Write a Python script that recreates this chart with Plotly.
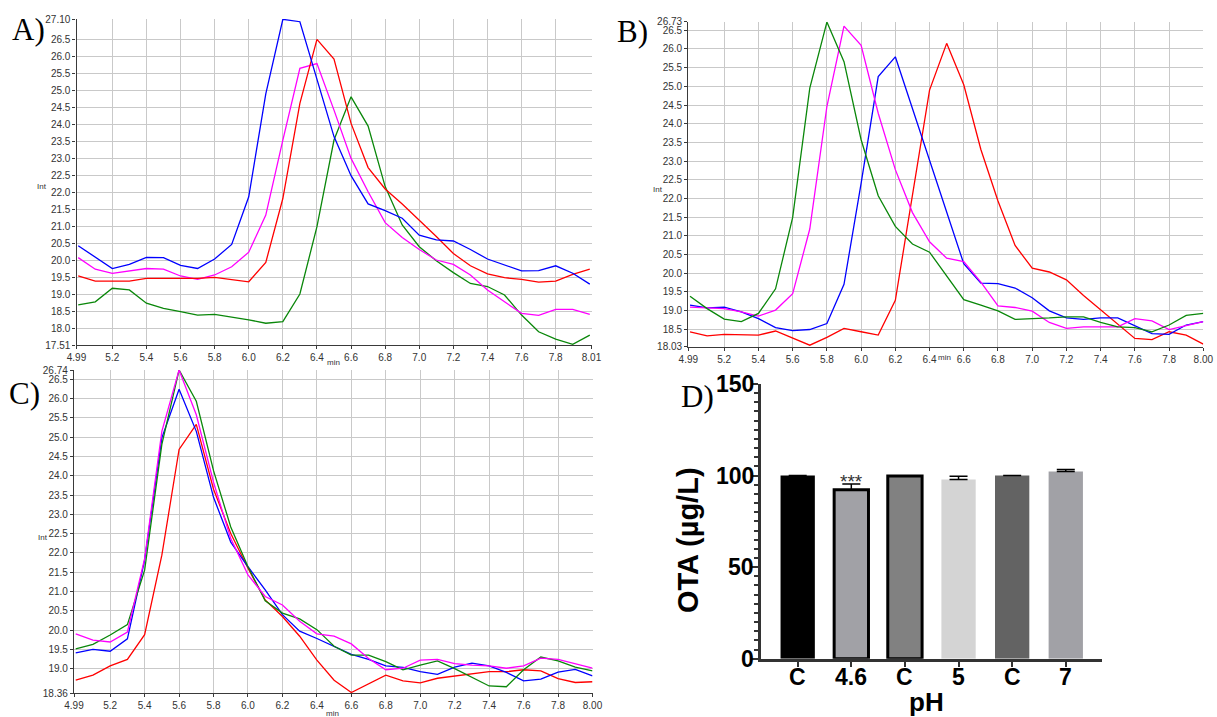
import plotly.graph_objects as go

W, H = 1217, 717

# ---------------- data ----------------
TIME = [5.0, 5.1, 5.2, 5.3, 5.4, 5.5, 5.6, 5.7, 5.8, 5.9, 6.0, 6.1, 6.2, 6.3, 6.4, 6.5,
        6.6, 6.7, 6.8, 6.9, 7.0, 7.1, 7.2, 7.3, 7.4, 7.5, 7.6, 7.7, 7.8, 7.9, 8.0]

A_blue = [20.43, 20.1, 19.76, 19.88, 20.09, 20.08, 19.85, 19.76, 20.04, 20.47, 21.87, 24.9, 27.09, 27.02,
          25.36, 23.64, 22.49, 21.66, 21.46, 21.24, 20.74, 20.6, 20.57, 20.32, 20.04, 19.86, 19.69, 19.7,
          19.84, 19.62, 19.3]
A_red = [19.54, 19.39, 19.39, 19.39, 19.47, 19.47, 19.47, 19.47, 19.5, 19.44, 19.37, 19.94, 21.82, 24.62,
         26.5, 25.92, 24.03, 22.73, 22.1, 21.66, 21.19, 20.7, 20.2, 19.84, 19.6, 19.49, 19.44, 19.36,
         19.39, 19.59, 19.74]
A_magenta = [20.08, 19.74, 19.62, 19.69, 19.76, 19.74, 19.54, 19.44, 19.57, 19.81, 20.24, 21.33, 23.54,
             25.65, 25.79, 24.42, 23.0, 22.02, 21.11, 20.67, 20.32, 20.01, 19.88, 19.57, 19.13, 18.78,
             18.44, 18.38, 18.56, 18.56, 18.41]
A_green = [18.69, 18.78, 19.18, 19.13, 18.74, 18.59, 18.49, 18.39, 18.41, 18.34, 18.25, 18.15, 18.2, 19.01,
           20.99, 23.54, 24.81, 23.95, 22.17, 21.04, 20.4, 19.99, 19.64, 19.32, 19.23, 18.98, 18.39, 17.9,
           17.68, 17.53, 17.8]

B_green = [19.38, 19.05, 18.77, 18.7, 18.92, 19.58, 21.49, 24.95, 26.72, 25.66, 23.57, 22.07, 21.25, 20.78,
           20.56, 19.94, 19.29, 19.14, 18.99, 18.76, 18.77, 18.8, 18.83, 18.83, 18.68, 18.56, 18.54, 18.43,
           18.61, 18.87, 18.92]
B_magenta = [19.09, 19.07, 19.05, 18.96, 18.85, 19.01, 19.45, 21.18, 24.46, 26.61, 26.1, 24.28, 22.77,
             21.62, 20.84, 20.4, 20.31, 19.76, 19.12, 19.08, 18.98, 18.68, 18.52, 18.56, 18.56, 18.56,
             18.78, 18.72, 18.49, 18.59, 18.7]
B_blue = [19.14, 19.07, 19.09, 18.96, 18.78, 18.54, 18.46, 18.49, 18.65, 19.7, 22.4, 25.26, 25.79, 24.4,
          23.0, 21.65, 20.25, 19.73, 19.72, 19.6, 19.34, 18.99, 18.8, 18.76, 18.8, 18.8, 18.59, 18.38,
          18.36, 18.61, 18.7]
B_red = [18.43, 18.32, 18.36, 18.34, 18.34, 18.45, 18.25, 18.07, 18.28, 18.52, 18.43, 18.34, 19.27, 22.14,
         24.9, 26.15, 25.04, 23.31, 21.93, 20.74, 20.13, 20.03, 19.82, 19.4, 19.01, 18.62, 18.25, 18.22,
         18.43, 18.34, 18.1]

C_green = [19.51, 19.63, 19.87, 20.14, 21.55, 24.81, 26.74, 25.93, 24.13, 22.67, 21.64, 20.76, 20.44, 20.29,
           20.01, 19.58, 19.35, 19.35, 19.18, 18.97, 19.09, 19.2, 19.0, 18.77, 18.55, 18.53, 18.97, 19.3,
           19.2, 19.04, 18.94]
C_magenta = [19.9, 19.74, 19.69, 19.95, 21.85, 25.15, 26.74, 25.58, 23.83, 22.37, 21.43, 20.87, 20.65,
             20.23, 19.9, 19.84, 19.64, 19.26, 18.97, 19.01, 19.22, 19.24, 19.13, 19.09, 19.07, 19.01,
             19.07, 19.27, 19.24, 19.13, 19.01]
C_blue = [19.41, 19.5, 19.45, 19.77, 21.81, 24.98, 26.24, 25.15, 23.44, 22.28, 21.64, 21.04, 20.4, 19.97,
          19.78, 19.58, 19.37, 19.24, 19.07, 19.03, 18.92, 18.85, 19.04, 19.14, 19.07, 18.9, 18.68, 18.73,
          18.91, 18.98, 18.81]
C_red = [18.7, 18.83, 19.07, 19.24, 19.88, 21.94, 24.68, 25.33, 23.65, 22.5, 21.6, 20.78, 20.35, 19.84,
         19.22, 18.7, 18.38, 18.6, 18.83, 18.68, 18.63, 18.75, 18.81, 18.87, 18.92, 18.92, 18.97, 18.94,
         18.74, 18.64, 18.66]

# tick labels
A_xticks = [4.99, 5.2, 5.4, 5.6, 5.8, 6.0, 6.2, 6.4, 6.6, 6.8, 7.0, 7.2, 7.4, 7.6, 7.8, 8.01]
A_xtext = ["4.99", "5.2", "5.4", "5.6", "5.8", "6.0", "6.2", "6.4", "6.6", "6.8", "7.0", "7.2", "7.4",
           "7.6", "7.8", "8.01"]
BC_xticks = [4.99, 5.2, 5.4, 5.6, 5.8, 6.0, 6.2, 6.4, 6.6, 6.8, 7.0, 7.2, 7.4, 7.6, 7.8, 8.0]
BC_xtext = ["4.99", "5.2", "5.4", "5.6", "5.8", "6.0", "6.2", "6.4", "6.6", "6.8", "7.0", "7.2", "7.4",
            "7.6", "7.8", "8.00"]
A_yticks = [17.51, 18.0, 18.5, 19.0, 19.5, 20.0, 20.5, 21.0, 21.5, 22.0, 22.5, 23.0, 23.5, 24.0, 24.5,
            25.0, 25.5, 26.0, 26.5, 27.10]
A_ytext = ["17.51", "18.0", "18.5", "19.0", "19.5", "20.0", "20.5", "21.0", "21.5", "22.0", "22.5",
           "23.0", "23.5", "24.0", "24.5", "25.0", "25.5", "26.0", "26.5", "27.10"]
B_yticks = [18.03, 18.5, 19.0, 19.5, 20.0, 20.5, 21.0, 21.5, 22.0, 22.5, 23.0, 23.5, 24.0, 24.5, 25.0,
            25.5, 26.0, 26.5, 26.73]
B_ytext = ["18.03", "18.5", "19.0", "19.5", "20.0", "20.5", "21.0", "21.5", "22.0", "22.5", "23.0",
           "23.5", "24.0", "24.5", "25.0", "25.5", "26.0", "26.5", "26.73"]
C_yticks = [18.36, 19.0, 19.5, 20.0, 20.5, 21.0, 21.5, 22.0, 22.5, 23.0, 23.5, 24.0, 24.5, 25.0, 25.5,
            26.0, 26.5, 26.74]
C_ytext = ["18.36", "19.0", "19.5", "20.0", "20.5", "21.0", "21.5", "22.0", "22.5", "23.0", "23.5",
           "24.0", "24.5", "25.0", "25.5", "26.0", "26.5", "26.74"]

D_labels = ["C", "4.6", "C", "5", "C", "7"]
D_values = [100, 92.3, 99.8, 97.8, 100, 102.2]
D_err = [0, 3.1, 0, 1.8, 0, 1.1]
D_colors = ["#000000", "#a1a1a6", "#818181", "#d4d4d4", "#636363", "#a1a1a6"]
D_outline = [0, 3, 3, 0, 0, 0]
D_yticks = [0, 50, 100, 150]

# ---------------- helpers ----------------
def fx(px):
    return px / W


def fy(py):
    return 1 - py / H


fig = go.Figure()

LINE_COLORS = {"blue": "#0000ff", "red": "#ff0000", "magenta": "#ff00ff", "green": "#0a870a"}

panels = [
    ("x", "y", [("green", A_green), ("magenta", A_magenta), ("red", A_red), ("blue", A_blue)]),
    ("x2", "y2", [("red", B_red), ("blue", B_blue), ("magenta", B_magenta), ("green", B_green)]),
    ("x3", "y3", [("red", C_red), ("blue", C_blue), ("green", C_green), ("magenta", C_magenta)]),
]
for xa, ya, series in panels:
    for cname, vals in series:
        fig.add_trace(go.Scatter(x=TIME, y=vals, mode="lines", xaxis=xa, yaxis=ya,
                                 line=dict(color=LINE_COLORS[cname], width=1.3),
                                 showlegend=False, hoverinfo="skip"))

x_idx = list(range(len(D_labels)))
fig.add_trace(go.Bar(
    x=x_idx, y=D_values, xaxis="x4", yaxis="y4", width=0.64,
    marker=dict(color=D_colors, line=dict(color="#000000", width=D_outline)),
    error_y=dict(type="data", symmetric=False, array=D_err, arrayminus=[0] * len(D_err),
                 color="#000000", thickness=1.5, width=9),
    showlegend=False, hoverinfo="skip"))

tickfont_small = dict(family="Liberation Sans, Arial", size=10, color="#333333")
grid = dict(showgrid=True, gridcolor="#c9c9c9", gridwidth=1.4, zeroline=False,
            showline=True, linecolor="#3a3a3a", linewidth=1.3, ticks="outside",
            ticklen=3, tickcolor="#3a3a3a", tickfont=tickfont_small, tickmode="array",
            automargin=False)


def chrom_axes(xdom, ydom, xr, yr, xt, xtt, yt, ytt):
    xa = dict(grid, domain=[fx(xdom[0]), fx(xdom[1])], range=xr, tickvals=xt, ticktext=xtt)
    ya = dict(grid, domain=[fy(ydom[1]), fy(ydom[0])], range=yr, tickvals=yt, ticktext=ytt)
    return xa, ya


xa1, ya1 = chrom_axes((76.5, 591.5), (19, 345), [4.99, 8.01], [17.51, 27.10],
                      A_xticks, A_xtext, A_yticks, A_ytext)
xa2, ya2 = chrom_axes((688.3, 1203.3), (21.7, 346.7), [4.99, 8.0], [18.03, 26.73],
                      BC_xticks, BC_xtext, B_yticks, B_ytext)
xa3, ya3 = chrom_axes((74, 592.5), (370, 693.3), [4.99, 8.0], [18.36, 26.74],
                      BC_xticks, BC_xtext, C_yticks, C_ytext)

fig.update_layout(
    xaxis=dict(xa1, anchor="y"), yaxis=dict(ya1, anchor="x"),
    xaxis2=dict(xa2, anchor="y2"), yaxis2=dict(ya2, anchor="x2"),
    xaxis3=dict(xa3, anchor="y3"), yaxis3=dict(ya3, anchor="x3"),
    xaxis4=dict(domain=[fx(760.7), fx(1101.7)], range=[-0.69, 5.67], anchor="y4",
                tickmode="array", tickvals=x_idx, showticklabels=False,
                showgrid=False, zeroline=False, automargin=False,
                showline=True, linecolor="#333333", linewidth=2.5, ticks="outside", ticklen=6,
                tickwidth=2, tickcolor="#333333"),
    yaxis4=dict(domain=[fy(658.7), fy(384)], range=[0, 150], anchor="x4",
                tickmode="array", tickvals=D_yticks, showticklabels=False,
                showgrid=False, zeroline=False, automargin=False,
                showline=True, linecolor="#333333", linewidth=2.5, ticks="outside", ticklen=6,
                tickwidth=2, tickcolor="#333333",
                minor=dict(dtick=5, ticks="outside", ticklen=3.5, tickwidth=1.5, tickcolor="#333333")),
    width=W, height=H, margin=dict(l=0, r=0, t=0, b=0, pad=0, autoexpand=False),
    paper_bgcolor="white", plot_bgcolor="white",
)

ann = []
serif = dict(family="Liberation Serif, Times New Roman", size=31, color="#000000")
for txt, x, y in [("A)", 28, 29), ("B)", 632, 31), ("C)", 24, 393), ("D)", 697, 396)]:
    ann.append(dict(text=txt, x=fx(x), y=fy(y), xref="paper", yref="paper", showarrow=False,
                    xanchor="center", yanchor="middle", font=serif))
tiny = dict(family="Liberation Sans, Arial", size=8, color="#333333")
for txt, x, y in [("Int", 42, 187), ("min", 333, 362), ("Int", 658, 189), ("min", 944, 357),
                  ("Int", 43, 537), ("min", 332, 713)]:
    ann.append(dict(text=txt, x=fx(x), y=fy(y), xref="paper", yref="paper", showarrow=False,
                    xanchor="center", yanchor="middle", font=tiny))

# panel D tick labels (bold, as GraphPad draws them)
dtick_font = dict(family="Liberation Sans, Arial", size=23, color="#000000")
for i, lab in zip(x_idx, D_labels):
    ann.append(dict(text="<b>%s</b>" % lab, x=i, y=fy(677), xref="x4", yref="paper",
                    showarrow=False, xanchor="center", yanchor="middle", font=dtick_font))
for v in D_yticks:
    ann.append(dict(text="<b>%d</b>" % v, x=fx(756), y=v, xref="paper", yref="y4",
                    showarrow=False, xanchor="right", yanchor="middle", font=dtick_font))

ann.append(dict(text="<b>pH</b>", x=fx(926), y=fy(702), xref="paper", yref="paper",
                showarrow=False, xanchor="center", yanchor="middle",
                font=dict(family="Liberation Sans, Arial", size=26, color="#000000")))
ann.append(dict(text="<b>OTA (µg/L)</b>", x=fx(688), y=fy(540), xref="paper", yref="paper",
                showarrow=False, xanchor="center", yanchor="middle", textangle=-90,
                font=dict(family="Liberation Sans, Arial", size=29, color="#000000")))
ann.append(dict(text="***", x=1, y=96.5, xref="x4", yref="y4", showarrow=False,
                xanchor="center", yanchor="middle",
                font=dict(family="Liberation Sans, Arial", size=19, color="#333333")))
fig.update_layout(annotations=ann)

fig.write_html("out.html", config={"displayModeBar": False},
               post_script="document.body.style.margin='0';document.body.style.overflow='hidden';")
